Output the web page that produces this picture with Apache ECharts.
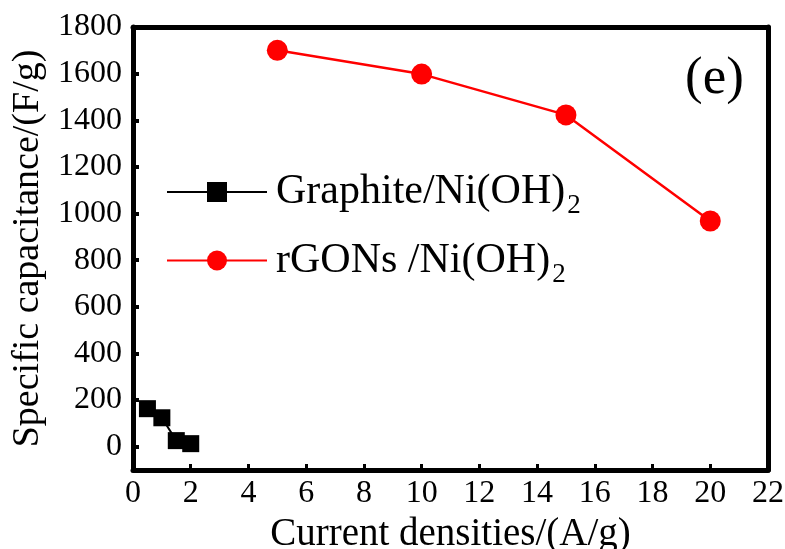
<!DOCTYPE html>
<html><head><meta charset="utf-8">
<script src="https://cdn.jsdelivr.net/npm/echarts@6/dist/echarts.min.js"></script>
<style>html,body{margin:0;padding:0;background:#fff}#c{width:785px;height:549px}</style>
</head><body><div id="c"></div>
<script>
const graphiteX = [0.5, 1, 1.5, 2];
const graphiteY = [163, 124, 26, 13];
const rgoX = [5, 10, 15, 20];
const rgoY = [1700, 1598, 1423, 968];
const xTicks = [0,2,4,6,8,10,12,14,16,18,20,22];
const yTicks = [0,200,400,600,800,1000,1200,1400,1600,1800];

const F = '"Liberation Serif", "Times New Roman", serif';
const chart = echarts.init(document.getElementById('c'), null, {renderer:'canvas'});
chart.setOption({
  animation:false,
  backgroundColor:'#fff',
  grid:{left:133, right:17, top:27, bottom:79, show:false, containLabel:false, outerBoundsMode:'none'},
  xAxis:[{
    type:'value', min:0, max:22, interval:2, position:'bottom',
    axisLine:{show:true, onZero:false, lineStyle:{color:'#000', width:5}},
    axisTick:{show:true, inside:true, length:6, customValues:xTicks, lineStyle:{color:'#000', width:3}},
    splitLine:{show:false},
    axisLabel:{color:'#000', fontFamily:F, fontSize:32, margin:8, customValues:xTicks, formatter:v=>String(v)},
    name:'Current densities/(A/g)', nameLocation:'middle', nameGap:41,
    nameTextStyle:{color:'#000', fontFamily:F, fontSize:39}
  },{
    type:'value', min:0, max:22, interval:2, position:'top',
    axisLine:{show:true, onZero:false, lineStyle:{color:'#000', width:5}},
    axisTick:{show:false}, axisLabel:{show:false}, splitLine:{show:false}
  }],
  yAxis:[{
    type:'value', min:-100, max:1800, interval:100, position:'left',
    axisLine:{show:true, onZero:false, lineStyle:{color:'#000', width:5}},
    axisTick:{show:true, inside:true, length:6, customValues:yTicks, lineStyle:{color:'#000', width:4}},
    splitLine:{show:false},
    axisLabel:{color:'#000', fontFamily:F, fontSize:32, margin:11, customValues:yTicks, formatter:v=>String(v)},
    name:'Specific capacitance/(F/g)', nameLocation:'middle', nameGap:84, nameRotate:90,
    nameTextStyle:{color:'#000', fontFamily:F, fontSize:38}
  },{
    type:'value', min:-100, max:1800, interval:100, position:'right',
    axisLine:{show:true, onZero:false, lineStyle:{color:'#000', width:5}},
    axisTick:{show:false}, axisLabel:{show:false}, splitLine:{show:false}
  }],
  legend:{
    orient:'vertical', left:166, top:171, itemGap:20, padding:0,
    itemWidth:100, itemHeight:25,
    textStyle:{color:'#000', fontFamily:F, fontSize:42, padding:[0,0,0,4],
      rich:{sub:{fontFamily:F, fontSize:27, color:'#000', padding:[28,0,0,2]}}},
    formatter:n=>n.replace('(OH)2','(OH){sub|2}'),
    data:['Graphite/Ni(OH)2','rGONs /Ni(OH)2']
  },
  graphic:[{type:'text', left:685, top:53, style:{text:'(e)', fill:'#000', font:'53px '+F}}],
  series:[{
    name:'Graphite/Ni(OH)2', type:'line', xAxisIndex:0, yAxisIndex:0,
    data:graphiteX.map((x,i)=>[x,graphiteY[i]]),
    symbol:'rect', symbolSize:17, color:'#000',
    lineStyle:{color:'#000', width:2}, itemStyle:{color:'#000'}
  },{
    name:'rGONs /Ni(OH)2', type:'line', xAxisIndex:0, yAxisIndex:0,
    data:rgoX.map((x,i)=>[x,rgoY[i]]),
    symbol:'circle', symbolSize:21, color:'#ff0000',
    lineStyle:{color:'#ff0000', width:2.5}, itemStyle:{color:'#ff0000'}
  }]
});
</script></body></html>
